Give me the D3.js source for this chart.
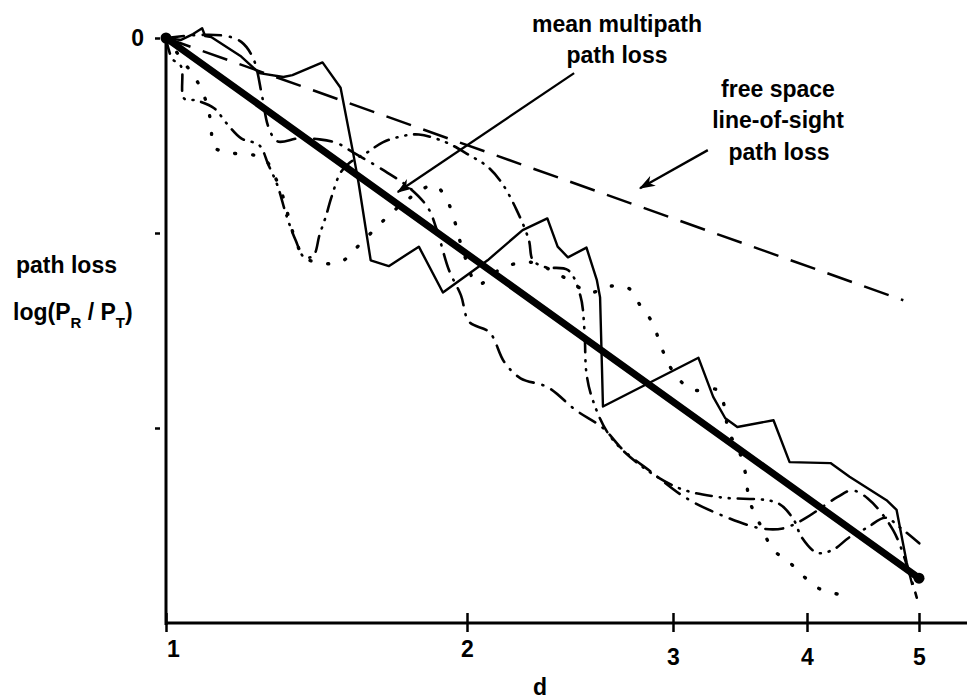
<!DOCTYPE html>
<html>
<head>
<meta charset="utf-8">
<script src="https://cdn.jsdelivr.net/npm/d3@7"></script>
<style>
  body { margin: 0; background: #fff; }
  svg text { font-family: "Liberation Sans", Arial, Helvetica, sans-serif; font-weight: bold; fill: #000; }
</style>
</head>
<body>
<svg id="chart" width="967" height="700"></svg>
<script>
// axis ticks
const distTicks = [1, 2, 3, 4, 5];
const lossTicks = [0, -20, -40];

// straight reference lines [d, loss]
const meanLoss = [[1, 0], [5, -55.4]];
const freeSpaceLoss = [[1, 0], [4.86, -26.9]];

// multipath runs [d, loss]
const solidRun = [[1,0],[1.05,-0.2],[1.09,0.4],[1.12,1.0],[1.13,0.2],[1.15,0.1],[1.25,-1.9],[1.31,-3.6],
  [1.39,-4.0],[1.42,-3.8],[1.52,-2.5],[1.58,-5.1],[1.62,-11.5],[1.64,-14.9],[1.68,-22.8],[1.74,-23.4],
  [1.84,-21.4],[1.92,-26.1],[2.10,-22.8],[2.27,-19.7],[2.39,-18.5],[2.44,-21.4],[2.49,-22.5],[2.58,-21.5],
  [2.63,-24.8],[2.646,-26.6],[2.655,-33.7],[2.66,-37.8],[3.19,-32.8],[3.30,-36.8],[3.39,-39.0],[3.48,-39.9],
  [3.75,-39.2],[3.87,-43.5],[4.21,-43.6],[4.38,-45.0],[4.71,-47.4],[4.80,-48.4],[4.89,-53.8],[4.94,-56.1]];

const dashDotRun = [[1,0],[1.10,0.3],[1.20,0.2],[1.25,-0.4],[1.29,-2.1],[1.32,-6.1],[1.34,-9.1],[1.37,-10.6],
  [1.44,-10.3],[1.51,-10.4],[1.57,-10.8],[1.62,-11.7],[1.73,-13.7],[1.81,-15.4],[1.87,-17.4],[1.90,-19.7],
  [1.94,-23.8],[1.98,-26.4],[2.01,-29.1],[2.11,-30.2],[2.18,-33.2],[2.26,-34.9],[2.39,-35.8],[2.53,-38.2],
  [2.66,-40.0],[2.76,-42.3],[2.90,-44.6],[3.10,-47.2],[3.39,-49.1],[3.66,-50.3],[3.82,-50.3],[3.97,-49.4],
  [4.27,-47.1],[4.40,-46.4],[4.54,-47.2],[4.77,-50.5],[4.92,-55.1],[4.98,-57.4]];

const dottedRun = [[1,0],[1.06,-2.5],[1.11,-4.8],[1.14,-7.2],[1.15,-9.2],[1.16,-11.2],[1.22,-11.8],[1.29,-12.0],
  [1.33,-12.5],[1.36,-14.1],[1.39,-16.4],[1.41,-18.7],[1.43,-20.7],[1.46,-22.5],[1.52,-23.1],[1.58,-23.0],
  [1.63,-21.6],[1.73,-18.5],[1.81,-16.4],[1.89,-15.1],[1.93,-16.4],[1.96,-18.9],[1.98,-21.2],[2.00,-23.0],
  [2.05,-25.3],[2.17,-23.6],[2.31,-23.0],[2.45,-24.3],[2.60,-26.1],[2.68,-25.5],[2.78,-25.6],[2.84,-27.4],
  [2.90,-29.2],[2.94,-31.5],[2.98,-33.5],[3.05,-35.1],[3.15,-36.1],[3.33,-36.1],[3.39,-38.2],[3.41,-40.2],
  [3.50,-42.6],[3.54,-44.6],[3.57,-47.4],[3.65,-49.9],[3.75,-52.5],[3.87,-53.8],[3.99,-55.4],[4.13,-56.6],
  [4.31,-57.1]];

const dashDotDotRun = [[1,0],[1.02,-2.1],[1.05,-2.9],[1.06,-6.2],[1.10,-6.4],[1.16,-7.2],[1.20,-8.7],[1.25,-10.3],
  [1.31,-11.0],[1.34,-13.0],[1.37,-15.1],[1.40,-18.2],[1.43,-20.7],[1.46,-22.5],[1.49,-22.3],[1.51,-20.2],
  [1.53,-18.4],[1.55,-16.3],[1.58,-13.8],[1.61,-12.8],[1.67,-11.7],[1.72,-10.7],[1.78,-10.1],[1.84,-9.9],
  [1.93,-10.7],[2.01,-12.0],[2.10,-13.2],[2.17,-14.9],[2.24,-17.6],[2.30,-20.7],[2.32,-22.8],[2.38,-23.5],
  [2.49,-23.8],[2.55,-26.4],[2.57,-29.9],[2.58,-34.4],[2.61,-37.1],[2.69,-40.7],[2.84,-43.8],[3.05,-46.2],
  [3.35,-47.1],[3.78,-47.7],[3.90,-49.4],[3.96,-51.2],[4.09,-52.8],[4.23,-52.5],[4.38,-51.2],[4.54,-50.2],
  [4.70,-49.2],[4.83,-50.2],[5.04,-52.2]];

// annotation arrows [tail, tip] in data units
const meanArrow = [[2.52, -3.6], [1.77, -15.8]];
const freeArrow = [[3.26, -11.5], [2.84, -15.4]];

const width = 967;
const svg = d3.select('#chart');

// hand drawn axis: spacing between 1..5 is not a true log
const x = d3.scaleLinear().domain(distTicks).range([166, 467, 673, 807, 919]);
const y = d3.scaleLinear().domain([0, -60]).range([38, 623]);

const line = d3.line().x(d => x(d[0])).y(d => y(d[1]));
const smooth = d3.line().x(d => x(d[0])).y(d => y(d[1])).curve(d3.curveCatmullRom.alpha(0.5));

// arrow head
svg.append('defs').append('marker')
    .attr('id', 'head')
    .attr('viewBox', '0 0 14 10')
    .attr('refX', 13).attr('refY', 5)
    .attr('markerWidth', 16).attr('markerHeight', 12)
    .attr('markerUnits', 'userSpaceOnUse')
    .attr('orient', 'auto')
  .append('path')
    .attr('d', 'M0,0 L14,5 L0,10 L4,5 Z')
    .attr('fill', '#000');

// axes lines
svg.append('line')
    .attr('x1', x(1)).attr('x2', x(1))
    .attr('y1', y(0)).attr('y2', y(-60) + 2)
    .attr('stroke', '#000').attr('stroke-width', 3);
svg.append('line')
    .attr('x1', x(1) - 1).attr('x2', width)
    .attr('y1', y(-60)).attr('y2', y(-60))
    .attr('stroke', '#000').attr('stroke-width', 3);

const xAxis = d3.axisBottom(x).tickValues(distTicks).tickFormat(d3.format('d')).tickSize(9).tickPadding(17);
const gx = svg.append('g')
    .attr('transform', `translate(0,${y(-60)})`)
    .call(xAxis)
    .attr('font-size', 23).attr('font-family', null);
gx.select('.domain').remove();
gx.selectAll('.tick line').attr('y1', -10).attr('stroke-width', 2.5);
gx.selectAll('.tick text').filter(d => d === 1).attr('dx', 7);
gx.selectAll('.tick text').filter(d => d <= 2).attr('dy', '0.35em');

const yAxis = d3.axisLeft(y).tickValues(lossTicks).tickSize(11).tickPadding(11)
    .tickFormat(d => d === 0 ? '0' : '');
const gy = svg.append('g')
    .attr('transform', `translate(${x(1)},0)`)
    .call(yAxis)
    .attr('font-size', 23).attr('font-family', null);
gy.select('.domain').remove();
gy.selectAll('.tick line').attr('x1', -6).attr('stroke-width', 2.5);

// free space line
svg.append('path')
    .attr('d', line(freeSpaceLoss))
    .attr('fill', 'none').attr('stroke', '#000')
    .attr('stroke-width', 2.5).attr('stroke-dasharray', '26,13');

// multipath runs
const runs = [
  {data: dottedRun, dash: '1,17', cap: 'round', w: 3.4, gen: smooth},
  {data: dashDotRun, dash: '18,9,1,9', cap: 'round', w: 2.6, gen: smooth},
  {data: dashDotDotRun, dash: '16,8,1,8,1,8', cap: 'round', w: 2.6, gen: smooth},
  {data: solidRun, dash: null, cap: 'butt', w: 2.4, gen: line}
];

svg.append('g').selectAll('path')
  .data(runs)
  .enter().append('path')
    .attr('d', d => d.gen(d.data))
    .attr('fill', 'none')
    .attr('stroke', '#000')
    .attr('stroke-width', d => d.w)
    .attr('stroke-linecap', d => d.cap)
    .attr('stroke-linejoin', 'round')
    .attr('stroke-dasharray', d => d.dash);

// mean multipath loss
svg.append('path')
    .attr('d', line(meanLoss))
    .attr('fill', 'none').attr('stroke', '#000')
    .attr('stroke-width', 7).attr('stroke-linecap', 'round');
svg.selectAll('circle.end')
  .data(meanLoss)
  .enter().append('circle')
    .attr('class', 'end')
    .attr('cx', d => x(d[0])).attr('cy', d => y(d[1]))
    .attr('r', 5.5).attr('fill', '#000');

// arrows
[meanArrow, freeArrow].forEach(a => {
  svg.append('line')
      .attr('x1', x(a[0][0])).attr('y1', y(a[0][1]))
      .attr('x2', x(a[1][0])).attr('y2', y(a[1][1]))
      .attr('stroke', '#000').attr('stroke-width', 2.3)
      .attr('marker-end', 'url(#head)');
});

// labels
const label = (tx, ty, str, anchor) => svg.append('text')
    .attr('x', tx).attr('y', ty)
    .attr('font-size', 23)
    .attr('text-anchor', anchor || 'middle')
    .text(str);

label(617, 32, 'mean multipath');
label(617, 63, 'path loss');
label(778, 97, 'free space');
label(778, 128, 'line-of-sight');
label(779, 160, 'path loss');
label(540, 695, 'd');
label(16, 273, 'path loss', 'start');

// y label with subscripts, kept in one text element
const ylab = svg.append('text')
    .attr('x', 13).attr('y', 320)
    .attr('font-size', 23);
ylab.append('tspan').text('log(P');
ylab.append('tspan').attr('font-size', 15).attr('dy', 8).text('R');
ylab.append('tspan').attr('dy', -8).text(' / P');
ylab.append('tspan').attr('font-size', 15).attr('dy', 8).text('T');
ylab.append('tspan').attr('dy', -8).text(')');
</script>
</body>
</html>
